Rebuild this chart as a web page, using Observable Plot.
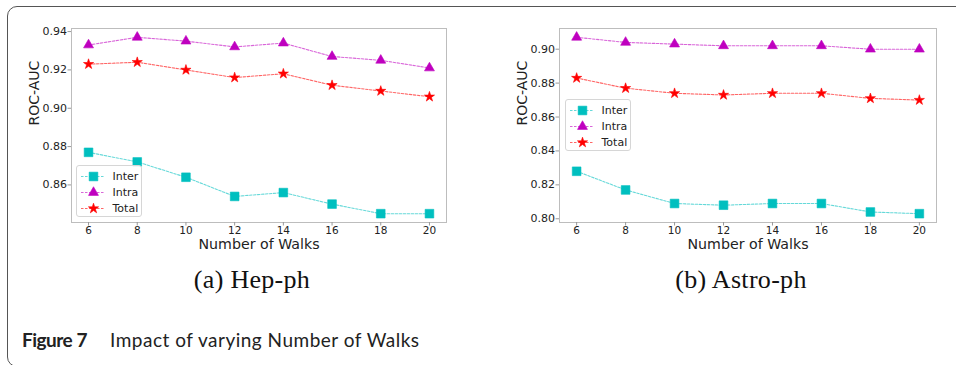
<!DOCTYPE html>
<html>
<head>
<meta charset="utf-8">
<script src="https://cdn.jsdelivr.net/npm/d3@7"></script>
<script src="https://cdn.jsdelivr.net/npm/@observablehq/plot@0.6"></script>
<style>
  html, body { margin: 0; padding: 0; background: #fff; }
  #page { position: relative; width: 956px; height: 365px; overflow: hidden; background: #fff; }
  #outline { position: absolute; left: 7px; top: 6px; width: 1000px; height: 359px;
             border: 1.5px solid #555; border-radius: 10px; }
  .panel { position: absolute; top: 0; }
  .legend { position: absolute; width: 64px; height: 50px; border: 1px solid #d6d6d6;
            border-radius: 3px; background: rgba(255,255,255,0.85); }
  .sub { position: absolute; top: 267px; font-family: "Liberation Serif", serif; font-size: 26px;
         letter-spacing: 0.3px; line-height: 25px; color: #111; transform: translateX(-50%); white-space: nowrap; }
  .cap { position: absolute; top: 330px; font-family: Lato, sans-serif; font-size: 19px;
         line-height: 19px; color: #222; white-space: nowrap; }
</style>
</head>
<body>
<div id="page">
  <div id="outline"></div>
  <div id="hep" class="panel" style="left:0px"></div>
  <div id="astro" class="panel" style="left:478px"></div>
  <div id="hepLegend" class="legend" style="left:76px; top:165px"></div>
  <div id="astroLegend" class="legend" style="left:565px; top:99px"></div>
  <div class="sub" style="left:252px">(a) Hep-ph</div>
  <div class="sub" style="left:741px">(b) Astro-ph</div>
  <div class="cap" style="left:22px; font-weight:700; letter-spacing:-0.5px">Figure 7</div>
  <div class="cap" style="left:110px; letter-spacing:0.5px">Impact of varying Number of Walks</div>
</div>
<script>
// Number of random walks on the x axis
const walks = [6, 8, 10, 12, 14, 16, 18, 20];

// ROC-AUC per setting, Hep-ph dataset
const hepInter = [0.877, 0.872, 0.864, 0.854, 0.856, 0.850, 0.845, 0.845];
const hepIntra = [0.933, 0.937, 0.935, 0.932, 0.934, 0.927, 0.925, 0.921];
const hepTotal = [0.923, 0.924, 0.920, 0.916, 0.918, 0.912, 0.909, 0.906];

// ROC-AUC per setting, Astro-ph dataset
const astroInter = [0.828, 0.817, 0.809, 0.808, 0.809, 0.809, 0.804, 0.803];
const astroIntra = [0.907, 0.904, 0.903, 0.902, 0.902, 0.902, 0.900, 0.900];
const astroTotal = [0.883, 0.877, 0.874, 0.873, 0.874, 0.874, 0.871, 0.870];

const seriesNames = ["Inter", "Intra", "Total"];
const seriesColors = ["#00bfbf", "#bf00bf", "#ff0000"];
const seriesSymbols = ["square", "triangle", "star"];
const seriesRadius = [4.9, 3.7, 3.2];

const hepYTicks = [0.86, 0.88, 0.90, 0.92, 0.94];
const astroYTicks = [0.80, 0.82, 0.84, 0.86, 0.88, 0.90];

const font = "DejaVu Sans, sans-serif";

function lineStyle(i) {
  return { stroke: seriesColors[i], strokeWidth: 1.1, strokeDasharray: "2.5,1.5", strokeOpacity: 0.6 };
}

function panel(series, yTicks, marginLeft, marginRight) {
  const rows = series.map((vals, i) =>
    walks.map((w, j) => ({ walks: w, auc: vals[j], name: seriesNames[i] })));
  const all = series.flat();
  const lo = d3.min(all), hi = d3.max(all), pad = (hi - lo) * 0.05;
  const xPad = (walks[walks.length - 1] - walks[0]) * 0.05;
  return Plot.plot({
    width: 478, height: 256,
    marginLeft, marginRight, marginTop: 28, marginBottom: 34,
    style: { fontFamily: font, fontSize: "11px", color: "#222", background: "transparent", overflow: "visible" },
    x: { domain: [walks[0] - xPad, walks[walks.length - 1] + xPad] },
    y: { domain: [lo - pad, hi + pad] },
    marks: [
      Plot.frame({ stroke: "#bdbdbd" }),
      Plot.axisX({ ticks: walks, tickSize: 3.5, tickPadding: 0.5, fontSize: 10.5, stroke: "#999", label: null }),
      Plot.axisY({ ticks: yTicks, tickFormat: ".2f", tickSize: 3.5, tickPadding: 1, stroke: "#999", label: null }),
      Plot.text(["ROC-AUC"], { text: d => d, frameAnchor: "left", dx: -37, rotate: -90, fontSize: 14, fill: "#222" }),
      Plot.text(["Number of Walks"], { text: d => d, frameAnchor: "bottom", lineAnchor: "top", dy: 16, fontSize: 14.2, fill: "#222" }),
      ...rows.map((r, i) => Plot.line(r, { x: "walks", y: "auc", ...lineStyle(i) })),
      ...rows.map((r, i) => Plot.dot(r, {
        x: "walks", y: "auc", symbol: seriesSymbols[i], r: seriesRadius[i],
        fill: seriesColors[i], stroke: seriesColors[i], strokeWidth: 0.6
      }))
    ]
  });
}

function legend() {
  return Plot.plot({
    width: 64, height: 50, marginLeft: 0, marginRight: 0, marginTop: 9, marginBottom: 8,
    style: { fontFamily: font, fontSize: "11px", color: "#222", background: "transparent", overflow: "visible" },
    y: { type: "point", domain: seriesNames, padding: 0, axis: null },
    marks: seriesNames.flatMap((name, i) => [
      Plot.tickY([name], { y: d => d, insetLeft: 4, insetRight: 36, ...lineStyle(i) }),
      Plot.dot([name], {
        y: d => d, frameAnchor: "left", dx: 16, symbol: seriesSymbols[i], r: seriesRadius[i],
        fill: seriesColors[i], stroke: seriesColors[i], strokeWidth: 0.6
      }),
      Plot.text([name], { y: d => d, text: d => d, frameAnchor: "left", dx: 35, textAnchor: "start", fill: "#222" })
    ])
  });
}

document.getElementById("hep").append(panel([hepInter, hepIntra, hepTotal], hepYTicks, 71, 32));
document.getElementById("astro").append(panel([astroInter, astroIntra, astroTotal], astroYTicks, 81, 20));
document.getElementById("hepLegend").append(legend());
document.getElementById("astroLegend").append(legend());
</script>
</body>
</html>
